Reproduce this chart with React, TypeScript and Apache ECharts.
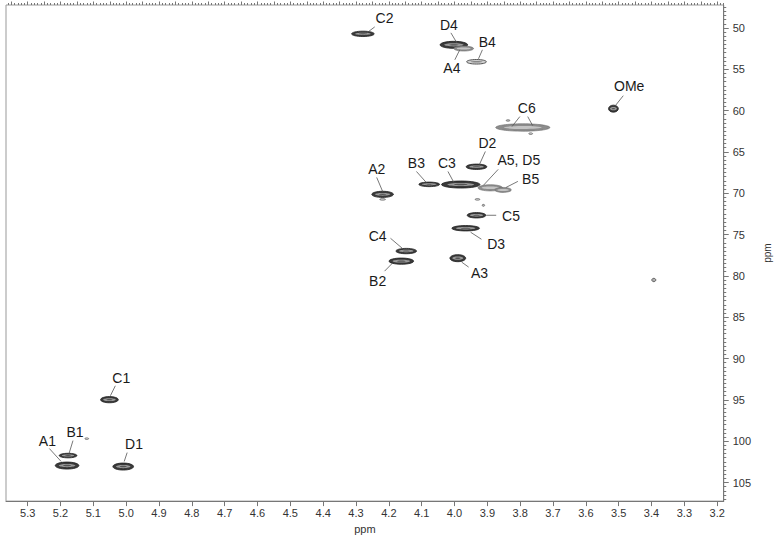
import React, { useEffect, useRef } from "react";
import * as echarts from "echarts";

// ---- Cross peaks (1H ppm, 13C ppm, line widths in ppm, shade class) ----
const peakNames = ["C2", "D4", "A4", "B4", "C6", "OMe", "D2", "B3", "C3", "A5D5", "B5", "A2", "C5", "D3", "C4", "B2", "A3", "C1", "B1", "A1", "D1",
  "n1", "n2", "n3", "n4", "n5", "n6", "n7"];
const peakH = [4.279, 4.002, 3.972, 3.933, 3.792, 3.516, 3.933, 4.077, 3.981, 3.891, 3.852, 4.219, 3.933, 3.966, 4.147, 4.162, 3.990, 5.051, 5.177, 5.180, 5.009,
  5.120, 3.393, 3.837, 3.768, 4.219, 3.930, 3.912];
const peakC = [50.72, 52.05, 52.5, 54.1, 62.05, 59.77, 66.8, 68.93, 68.95, 69.35, 69.6, 70.14, 72.67, 74.24, 77.0, 78.22, 77.86, 94.98, 101.74, 102.95, 103.07,
  99.7, 80.5, 61.2, 62.8, 70.75, 70.75, 71.47];
const peakWidthH = [0.069, 0.084, 0.06, 0.06, 0.165, 0.03, 0.063, 0.063, 0.117, 0.075, 0.05, 0.066, 0.057, 0.084, 0.063, 0.075, 0.048, 0.054, 0.054, 0.072, 0.063,
  0.012, 0.012, 0.012, 0.012, 0.018, 0.015, 0.008];
const peakWidthC = [0.65, 0.85, 0.6, 0.55, 0.9, 0.85, 0.65, 0.55, 0.85, 0.75, 0.6, 0.75, 0.65, 0.65, 0.65, 0.75, 0.85, 0.75, 0.55, 0.85, 0.85,
  0.2, 0.4, 0.2, 0.2, 0.2, 0.2, 0.25];
const peakShade = [0, 0, 1, 2, 1, 0, 0, 0, 0, 1, 1, 0, 0, 0, 0, 0, 0, 0, 0, 0, 0,
  1, 2, 1, 1, 1, 1, 1];

// ---- Assignment labels (text position in ppm) ----
const labelText = ["C2", "D4", "A4", "B4", "C6", "OMe", "D2", "A5, D5", "B5", "B3", "C3", "A2", "C5", "D3", "C4", "B2", "A3", "C1", "B1", "A1", "D1"];
const labelH = [4.213, 4.017, 4.008, 3.900, 3.780, 3.468, 3.900, 3.804, 3.768, 4.116, 4.023, 4.237, 3.828, 3.873, 4.234, 4.234, 3.924, 5.015, 5.156, 5.240, 4.976];
const labelC = [48.79, 49.64, 54.82, 51.69, 59.65, 57.0, 63.87, 66.04, 68.33, 66.4, 66.4, 67.12, 72.8, 76.17, 75.2, 80.63, 79.67, 92.33, 98.84, 99.93, 100.29];

// ---- Leader lines (start / end in ppm) ----
const leadH1 = [4.243, 4.011, 3.999, 3.915, 3.801, 3.777, 3.486, 3.906, 3.867, 3.807, 4.116, 4.020, 4.237, 3.903, 3.951, 4.195, 4.213, 3.978, 5.033, 5.162, 5.234, 4.997];
const leadC1 = [49.88, 50.6, 53.86, 52.65, 60.73, 60.73, 58.2, 64.95, 67.12, 68.57, 67.37, 67.37, 68.09, 72.67, 74.72, 75.45, 79.43, 78.34, 93.3, 99.93, 100.89, 101.38];
const leadH2 = [4.267, 3.993, 3.984, 3.927, 3.825, 3.762, 3.510, 3.924, 3.912, 3.843, 4.086, 4.002, 4.219, 3.873, 3.918, 4.156, 4.189, 3.957, 5.048, 5.174, 5.198, 5.006];
const leadC2 = [50.6, 51.8, 52.65, 53.74, 61.94, 61.82, 59.4, 66.52, 69.05, 69.3, 68.7, 68.7, 69.78, 72.67, 75.57, 76.77, 78.46, 78.94, 94.5, 101.5, 102.46, 102.46];

// ---- Axes ----
const xTickLabels = [3.2, 3.3, 3.4, 3.5, 3.6, 3.7, 3.8, 3.9, 4.0, 4.1, 4.2, 4.3, 4.4, 4.5, 4.6, 4.7, 4.8, 4.9, 5.0, 5.1, 5.2, 5.3];
const yTickLabels = [50, 55, 60, 65, 70, 75, 80, 85, 90, 95, 100, 105];
const X_MIN = 3.18, X_MAX = 5.366;
const Y_MIN = 47.23, Y_MAX = 107.25;

const xMinor: number[] = [];
for (let i = 318; i <= 536; i++) xMinor.push(i / 100);
const xMid: number[] = [];
for (let i = 64; i <= 107; i++) xMid.push(i * 5 / 100);
const yMinor: number[] = [];
for (let i = 95; i <= 214; i++) yMinor.push(i / 2);

const FONT = "'Liberation Sans', Arial, sans-serif";
const AXIS_COLOR = "#777";

export default function App() {
  const ref = useRef<HTMLDivElement>(null);
  useEffect(() => {
    if (!ref.current) return;
    const chart = echarts.init(ref.current, undefined, { renderer: "svg" });

    const peakData = peakH.map((h, i) => [h, peakC[i], peakWidthH[i], peakWidthC[i], peakShade[i]]);
    const labelData = labelH.map((h, i) => [h, labelC[i]]);
    const leaderData = leadH1.map((h, i) => [h, leadC1[i], leadH2[i], leadC2[i]]);

    const baseX = {
      type: "value" as const,
      inverse: true,
      min: X_MIN,
      max: X_MAX,
      splitLine: { show: false },
    };
    const baseY = {
      type: "value" as const,
      inverse: true,
      position: "right" as const,
      min: Y_MIN,
      max: Y_MAX,
      splitLine: { show: false },
    };

    chart.setOption({
      animation: false,
      backgroundColor: "#fff",
      grid: { left: 6, right: 48, top: 5, bottom: 35, show: true, borderColor: "#999", borderWidth: 1 },
      xAxis: [
        {
          ...baseX,
          name: "ppm",
          nameLocation: "middle",
          nameGap: 19,
          nameTextStyle: { fontFamily: FONT, fontSize: 11, color: "#333" },
          axisLine: { show: true, onZero: false, lineStyle: { color: AXIS_COLOR } },
          axisTick: { show: true, inside: false, length: 5, customValues: xTickLabels, lineStyle: { color: AXIS_COLOR } },
          axisLabel: { show: true, customValues: xTickLabels, margin: 6, fontFamily: FONT, fontSize: 11, color: "#333", formatter: (v: number) => v.toFixed(1) },
        },
        {
          ...baseX,
          axisLine: { show: false, onZero: false },
          axisTick: { show: true, length: 2, customValues: xMinor, lineStyle: { color: AXIS_COLOR } },
          axisLabel: { show: false },
        },
        {
          ...baseX,
          axisLine: { show: false, onZero: false },
          axisTick: { show: true, length: 3.5, customValues: xMid, lineStyle: { color: AXIS_COLOR } },
          axisLabel: { show: false },
        },
      ],
      yAxis: [
        {
          ...baseY,
          name: "ppm",
          nameLocation: "middle",
          nameGap: 33,
          nameRotate: 90,
          nameTextStyle: { fontFamily: FONT, fontSize: 10, color: "#333" },
          axisLine: { show: true, onZero: false, lineStyle: { color: AXIS_COLOR } },
          axisTick: { show: true, length: 5, customValues: yTickLabels, lineStyle: { color: AXIS_COLOR } },
          axisLabel: { show: true, customValues: yTickLabels, margin: 9, fontFamily: FONT, fontSize: 11, color: "#333" },
        },
        {
          ...baseY,
          axisLine: { show: false, onZero: false },
          axisTick: { show: true, length: 2.5, customValues: yMinor, lineStyle: { color: AXIS_COLOR } },
          axisLabel: { show: false },
        },
      ],
      series: [
        {
          type: "custom",
          name: "peaks",
          xAxisIndex: 0,
          yAxisIndex: 0,
          data: peakData,
          encode: { x: 0, y: 1 },
          renderItem: (params: any, api: any) => {
            const c = api.coord([api.value(0), api.value(1)]);
            const s = api.size([api.value(2), api.value(3)]);
            const rx = Math.max(Math.abs(s[0]) / 2, 1);
            const ry = Math.max(Math.abs(s[1]) / 2, 0.8);
            const shade = api.value(4);
            if (shade === 0) {
              return {
                type: "group",
                children: [
                  { type: "ellipse", shape: { cx: c[0], cy: c[1], rx, ry }, style: { fill: "#3a3a3a", stroke: "#1e1e1e", lineWidth: 0.8 } },
                  { type: "ellipse", shape: { cx: c[0], cy: c[1], rx: rx * 0.7, ry: ry * 0.45 }, style: { fill: "#9a9a9a" } },
                  { type: "ellipse", shape: { cx: c[0], cy: c[1], rx: rx * 0.35, ry: ry * 0.2 }, style: { fill: "#555" } },
                ],
              };
            }
            if (shade === 2) {
              return {
                type: "group",
                children: [
                  { type: "ellipse", shape: { cx: c[0], cy: c[1], rx, ry }, style: { fill: "#d0d0d0", stroke: "#444", lineWidth: 0.9 } },
                  { type: "ellipse", shape: { cx: c[0], cy: c[1], rx: rx * 0.6, ry: ry * 0.35 }, style: { fill: "#888" } },
                ],
              };
            }
            return {
              type: "group",
              children: [
                { type: "ellipse", shape: { cx: c[0], cy: c[1], rx, ry }, style: { fill: "#8c8c8c", stroke: "#6a6a6a", lineWidth: 0.6 } },
                { type: "ellipse", shape: { cx: c[0], cy: c[1], rx: rx * 0.7, ry: ry * 0.4 }, style: { fill: "#c4c4c4" } },
              ],
            };
          },
        },
        {
          type: "custom",
          name: "leaders",
          xAxisIndex: 0,
          yAxisIndex: 0,
          data: leaderData,
          encode: { x: [0, 2], y: [1, 3] },
          renderItem: (params: any, api: any) => {
            const a = api.coord([api.value(0), api.value(1)]);
            const b = api.coord([api.value(2), api.value(3)]);
            return {
              type: "line",
              shape: { x1: a[0], y1: a[1], x2: b[0], y2: b[1] },
              style: { stroke: "#555", lineWidth: 0.8 },
            };
          },
        },
        {
          type: "custom",
          name: "labels",
          xAxisIndex: 0,
          yAxisIndex: 0,
          data: labelData,
          encode: { x: 0, y: 1 },
          renderItem: (params: any, api: any) => {
            const c = api.coord([api.value(0), api.value(1)]);
            return {
              type: "text",
              x: c[0],
              y: c[1],
              style: {
                text: labelText[params.dataIndex],
                fontFamily: FONT,
                fontSize: 14,
                fill: "#1a1a1a",
                align: "center",
                verticalAlign: "middle",
              },
            };
          },
        },
      ],
    });
    return () => chart.dispose();
  }, []);

  return <div ref={ref} style={{ width: 780, height: 539, position: "absolute", left: 0, top: 0 }} />;
}
